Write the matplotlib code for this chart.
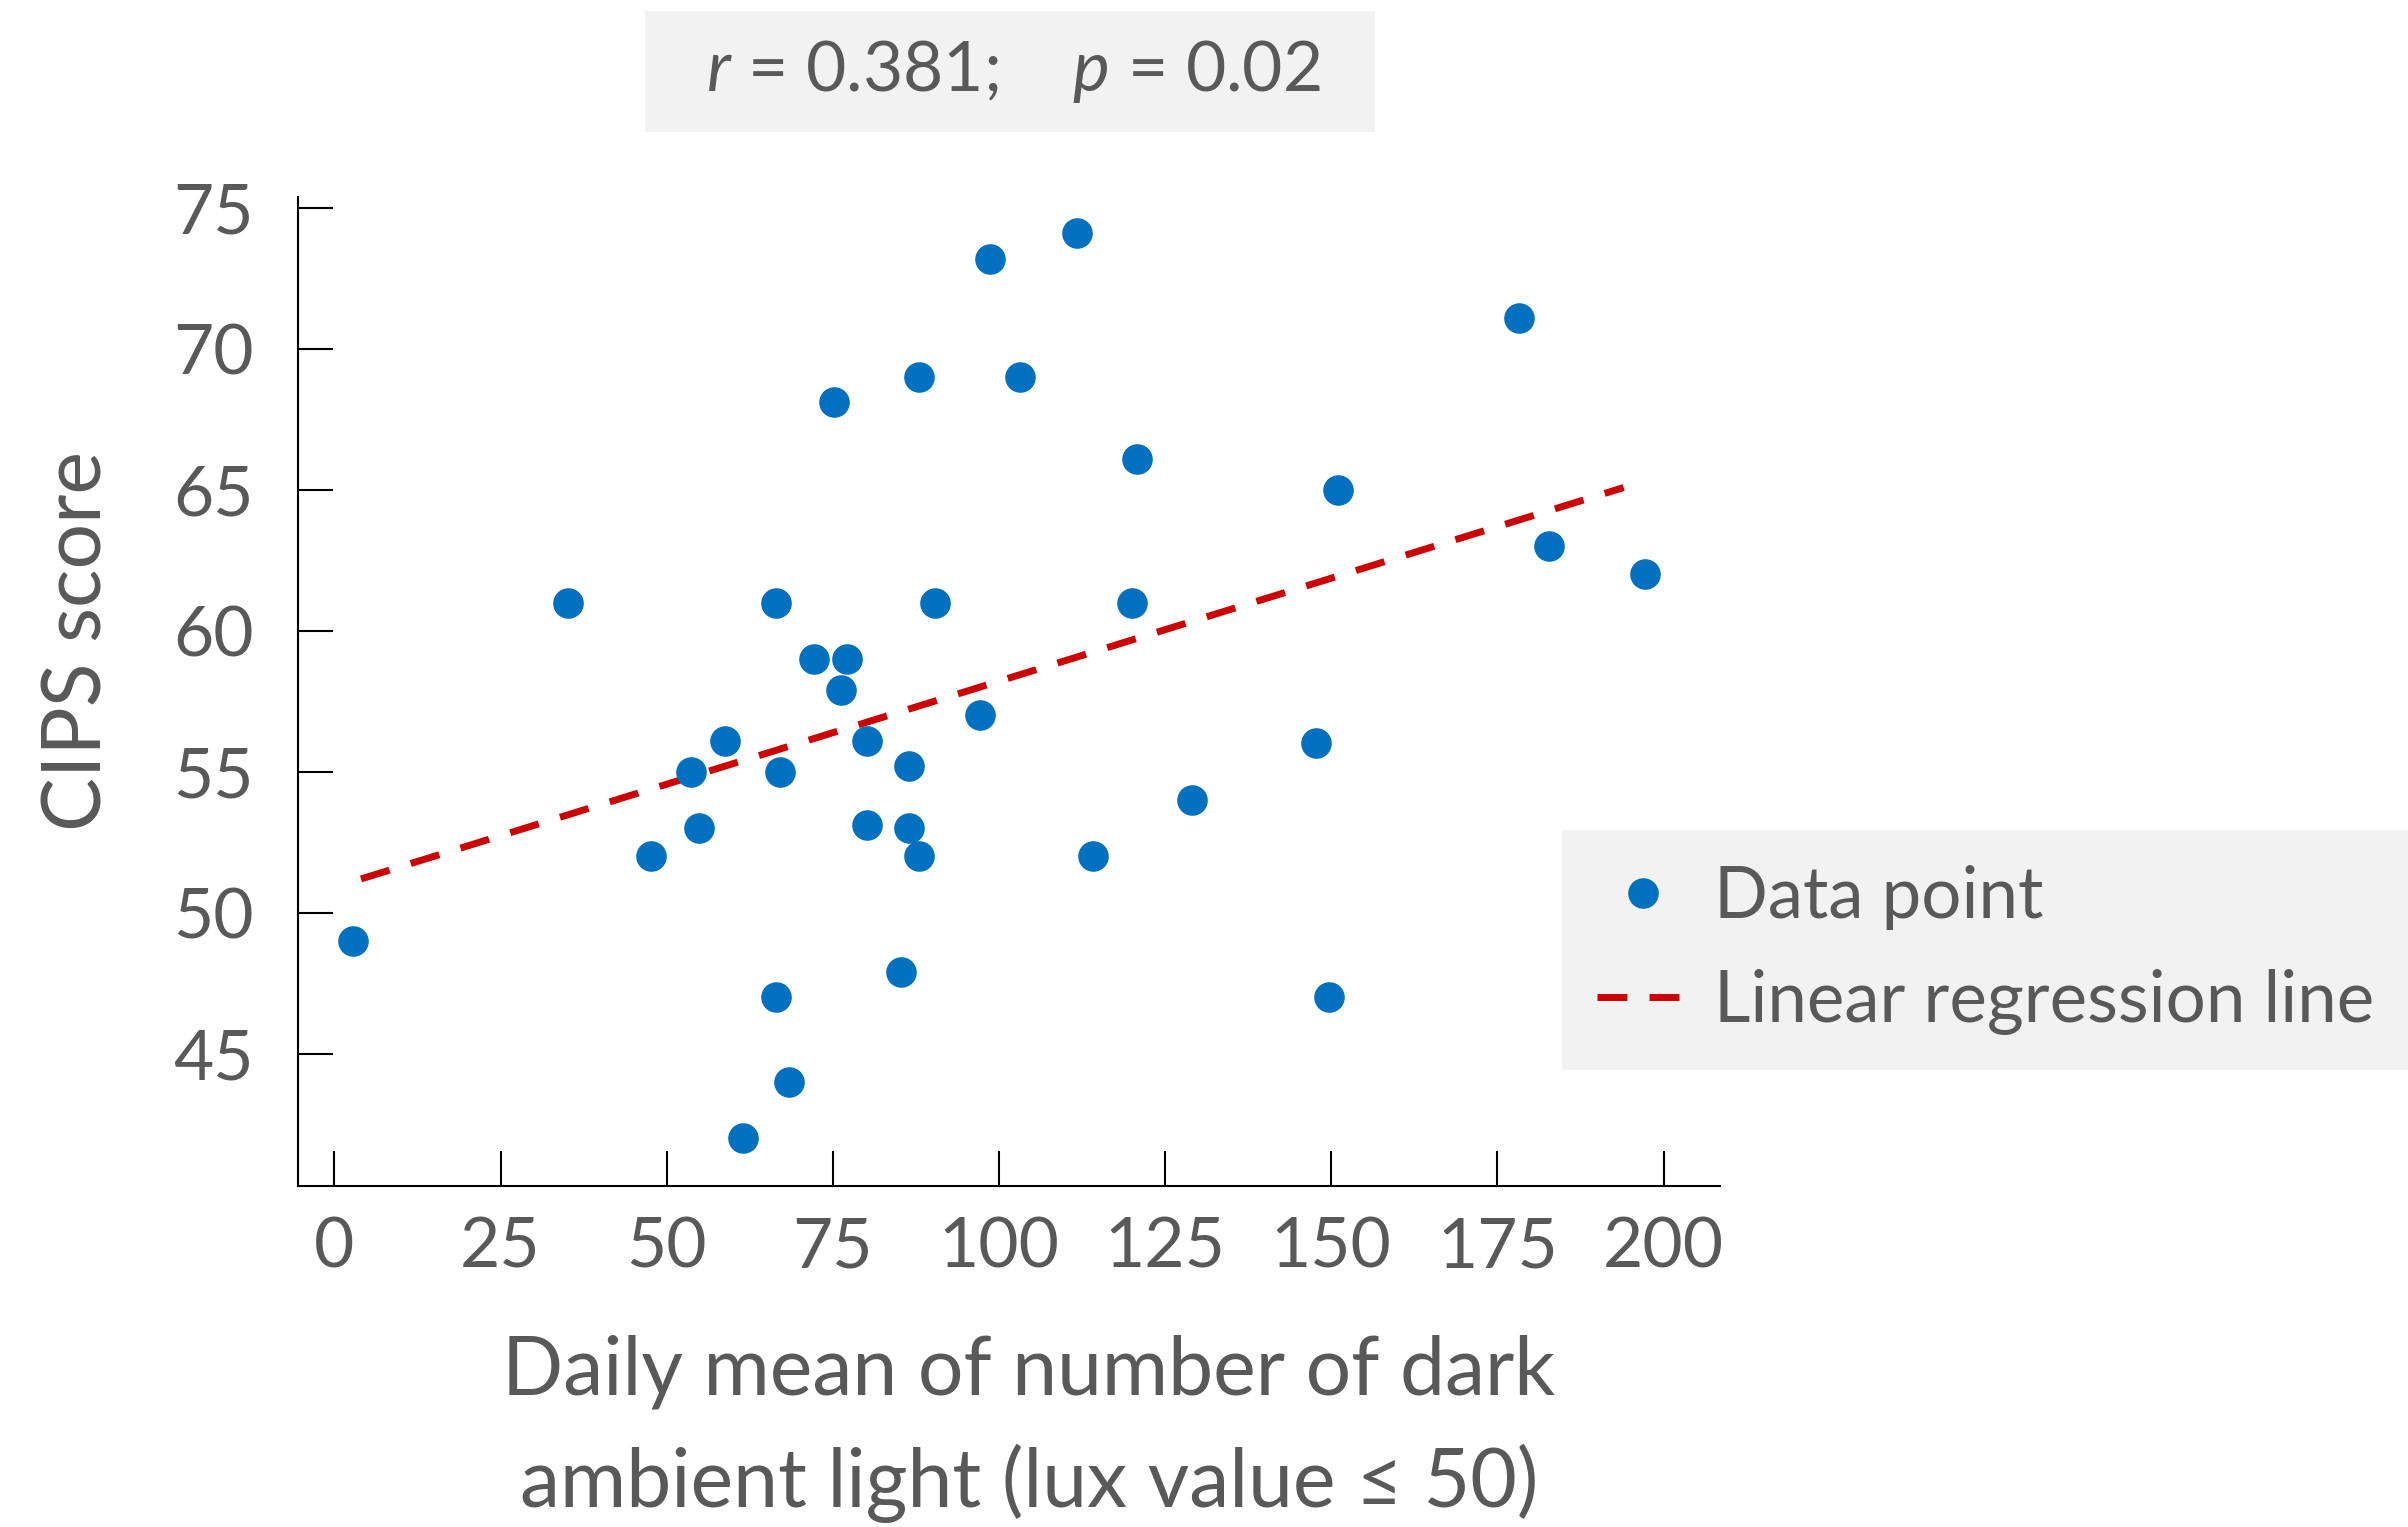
import numpy as np
import matplotlib
matplotlib.use("Agg")
import matplotlib.pyplot as plt
from matplotlib.patches import Rectangle

plt.rcParams['font.family'] = ['Lato', 'DejaVu Sans']
plt.rcParams['mathtext.fontset'] = 'custom'
plt.rcParams['mathtext.it'] = 'Lato:italic'
plt.rcParams['mathtext.rm'] = 'Lato'

# values
dark_light = [2.8, 35.1, 47.6, 53.6, 54.8, 58.7, 61.5, 66.4, 66.4, 67.1,
              68.4, 72.1, 75.1, 76.3, 77.2, 80.2, 80.2, 85.3, 86.5, 86.5,
              87.9, 87.9, 90.4, 97.1, 98.7, 103.1, 111.7, 114.2, 120.0, 120.7,
              129.0, 147.7, 149.6, 151.0, 178.3, 182.7, 197.2]
cips = [49, 61, 52, 55, 53, 56.1, 42, 61, 47, 55,
        44, 59, 68.1, 57.9, 59, 56.1, 53.1, 47.9, 55.2, 53,
        69, 52, 61, 57, 73.2, 69, 74.1, 52, 61, 66.1,
        54, 56, 47, 65, 71.1, 63, 62]
reg_range = [4, 194]
x_ticks = [0, 25, 50, 75, 100, 125, 150, 175, 200]
y_ticks = [45, 50, 55, 60, 65, 70, 75]

text_col = '#595959'
blue = '#0070c0'
red = '#cc0000'

fig = plt.figure(figsize=(24.08, 15.27), dpi=100)
ax = fig.add_axes([0.1237, 0.2233, 0.5906, 0.6479])

ax.plot(dark_light, cips, 'o', color=blue, markersize=21, label='Data point',
        zorder=3)

slope, intercept = np.polyfit(dark_light, cips, 1)
rx = np.array(reg_range)
ax.plot(rx, intercept + slope * rx, color=red, lw=5, dashes=(4.3, 3.2),
        label='Linear regression line', zorder=2)

ax.set_xlim(-5.5, 208.5)
ax.set_ylim(40.3, 75.4)
ax.set_xticks(x_ticks)
ax.set_yticks(y_ticks)

for s in ['top', 'right']:
    ax.spines[s].set_visible(False)
for s in ['left', 'bottom']:
    ax.spines[s].set_linewidth(1.5)
ax.tick_params(direction='in', length=25, width=1.5, labelsize=50,
               labelcolor=text_col)
ax.tick_params(axis='y', pad=32)
ax.tick_params(axis='x', pad=22)

ax.set_ylabel('CIPS score', fontsize=58, color=text_col)
ax.yaxis.set_label_coords(-0.128, 0.551)
ax.set_xlabel('Daily mean of number of dark\nambient light (lux value \u2264 50)',
              fontsize=58, color=text_col, linespacing=1.55)
ax.xaxis.set_label_coords(0.514, -0.15)

leg = ax.legend(loc='upper left', bbox_to_anchor=(0.6486, 0.4567),
                bbox_transform=fig.transFigure, fontsize=51, frameon=True,
                fancybox=False, framealpha=1, facecolor='#f2f2f2',
                edgecolor='none', borderaxespad=0, borderpad=0.5,
                handlelength=1.3, handletextpad=0.35, labelspacing=0.55)
for t in leg.get_texts():
    t.set_color(text_col)

fig.patches.append(Rectangle((0.268, 0.9135), 0.303, 0.0795,
                             transform=fig.transFigure, facecolor='#f2f2f2',
                             edgecolor='none', zorder=0))
fig.text(0.421, 0.953, r'$r$ = 0.381;    $p$ = 0.02', fontsize=50,
         color=text_col, ha='center', va='center')

fig.savefig('out.png', dpi=100)
